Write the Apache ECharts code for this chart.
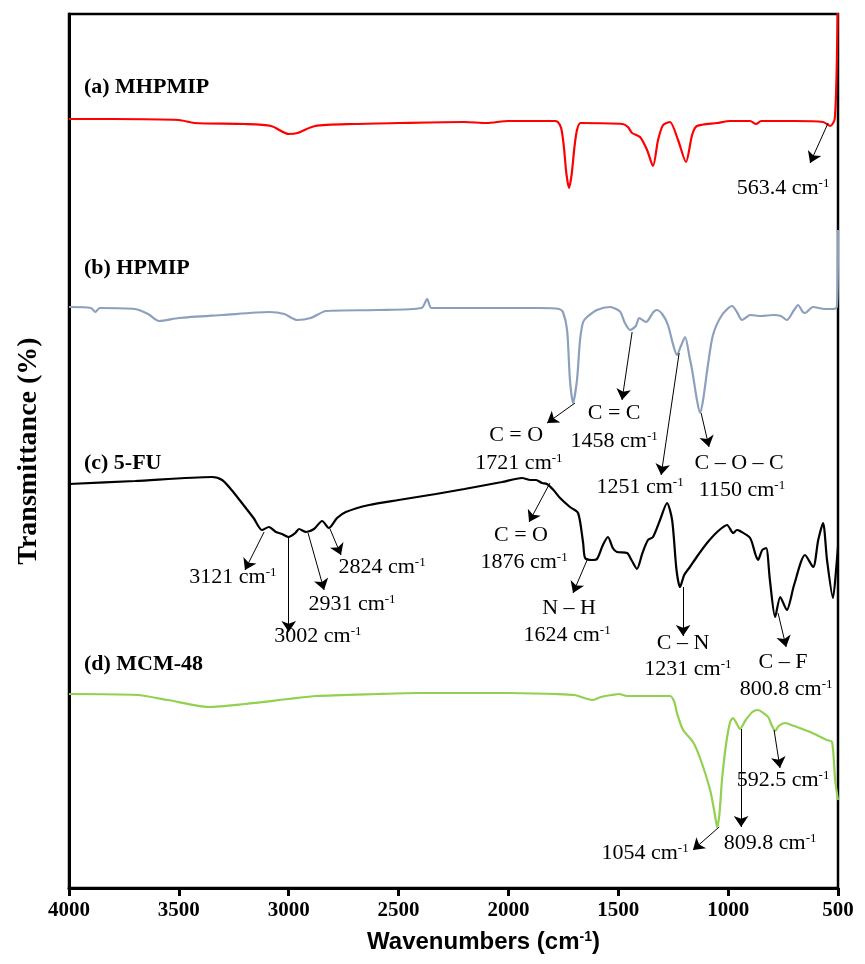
<!DOCTYPE html>
<html>
<head>
<meta charset="utf-8">
<script src="https://cdn.jsdelivr.net/npm/echarts@6/dist/echarts.min.js"></script>
<style>
html,body{margin:0;padding:0;background:#fff}
#main{width:865px;height:964px}
</style>
</head>
<body>
<div id="main"></div>
<script>
// [wavenumber, offset transmittance]
var mhpmip = [[4000,769],[3800,769],[3500,768],[3430,765],[3200,764],[3080,762],[3000,754],[2960,755],[2880,762],[2700,764],[2500,765],[2200,766],[2100,765],[2000,767],[1790,767],[1775,766],[1760,760],[1748,742],[1736,714],[1724,700],[1712,714],[1700,740],[1688,758],[1672,765],[1480,764],[1456,761],[1437,755],[1401,751],[1369,738],[1342,722],[1319,748],[1296,763],[1265,766],[1228,748],[1192,726],[1164,753],[1142,762],[1050,765],[990,767],[900,767],[873,764],[850,767],[700,767],[568,766],[535,762],[515,769],[505,828],[500,900]];
var hpmip = [[4000,581],[3900,580],[3880,576],[3860,580],[3700,579],[3640,574],[3590,567],[3500,570],[3300,573],[3090,576],[3020,574],[2962,568],[2900,570],[2830,577],[2600,578],[2395,580],[2370,589],[2350,580],[2100,580],[1856,580],[1770,579],[1752,576],[1733,558],[1720,508],[1706,485],[1688,508],[1674,548],[1660,566],[1642,571],[1597,578],[1538,581],[1510,579],[1490,576],[1470,565],[1446,558],[1420,562],[1405,570],[1374,566],[1340,576],[1324,578],[1300,574],[1274,563],[1250,543],[1233,533],[1215,542],[1196,551],[1175,530],[1164,518],[1142,488],[1128,475],[1114,488],[1092,523],[1069,553],[1028,573],[982,582],[960,576],[937,568],[900,573],[850,572],[795,573],[760,572],[733,568],[700,578],[682,583],[660,576],[650,575],[614,581],[560,579],[523,579],[505,581],[500,658]];
var fu5 = [[4000,404],[3700,407],[3349,411],[3303,408],[3260,398],[3213,385],[3160,370],[3122,358],[3090,361],[3058,356],[3030,354],[3000,351],[2970,355],[2953,359],[2921,356],[2885,359],[2848,367],[2817,360],[2780,370],[2740,376],[2634,383],[2500,388],[2330,394],[2200,399],[2029,406],[1938,410],[1900,408],[1874,408],[1847,405],[1825,404],[1795,398],[1765,390],[1720,381],[1683,375],[1660,345],[1651,330],[1620,328],[1597,329],[1570,343],[1547,351],[1525,340],[1506,336],[1460,335],[1440,328],[1415,319],[1390,335],[1365,348],[1342,351],[1310,368],[1278,385],[1255,368],[1235,318],[1219,301],[1200,313],[1174,321],[1140,332],[1096,345],[1050,356],[1005,363],[977,355],[960,358],[946,357],[900,350],[875,333],[864,328],[845,338],[827,340],[810,308],[786,271],[763,291],[733,278],[700,303],[650,333],[613,321],[590,348],[568,365],[550,328],[523,290],[505,328],[500,341]];
var mcm48 = [[4000,194],[3690,193],[3550,188],[3363,181],[3200,184],[3000,189],[2876,192],[2600,194],[2407,195],[2000,195],[1788,194],[1700,193],[1640,189],[1615,188],[1580,191],[1530,193],[1497,194],[1460,192],[1264,192],[1245,186],[1233,175],[1205,158],[1160,146],[1128,130],[1082,98],[1060,73],[1050,61],[1040,73],[1028,108],[1010,143],[991,166],[978,170],[960,164],[946,159],[920,168],[890,176],[864,178],[840,175],[818,171],[800,162],[786,157],[770,162],[741,165],[700,162],[627,156],[570,150],[550,148],[527,146],[513,108],[500,88]];

var curveNames = [[3932,801,'(a) MHPMIP'],[3932,620,'(b) HPMIP'],[3932,425,'(c) 5-FU'],[3932,224,'(d) MCM-48']];

// arrows: from [w,v] to [w,v]
var arrows = [
  [545,765,627,725],
  [1697,485,1824,465],
  [1437,556,1483,488],
  [1223,535,1305,413],
  [1123,475,1087,441],
  [3112,356,3199,318],
  [3000,351,3000,256],
  [2912,355,2839,298],
  [2812,359,2762,333],
  [1811,405,1906,366],
  [1638,330,1706,295],
  [1205,301,1205,252],
  [773,275,736,241],
  [1041,61,1160,38],
  [941,159,941,61],
  [791,158,764,120]
];

var annoText = [
  [750,700,'563.4 cm-1'],
  [1965,453,'C = O'],[1952,425,'1721 cm-1'],
  [1519,475,'C = C'],[1519,447,'1458 cm-1'],
  [1401,401,'1251 cm-1'],
  [950,425,'C – O – C'],[937,398,'1150 cm-1'],
  [3254,311,'3121 cm-1'],
  [2867,252,'3002 cm-1'],
  [2712,284,'2931 cm-1'],
  [2575,321,'2824 cm-1'],
  [1943,353,'C = O'],[1929,326,'1876 cm-1'],
  [1724,280,'N – H'],[1733,253,'1624 cm-1'],
  [1205,245,'C – N'],[1183,219,'1231 cm-1'],
  [750,226,'C – F'],[736,199,'800.8 cm-1'],
  [1378,35,'1054 cm-1'],
  [809,45,'809.8 cm-1'],
  [750,108,'592.5 cm-1']
];

var myChart = echarts.init(document.getElementById('main'));

function curve(name, data, color) {
  return {
    name: name,
    type: 'line',
    data: data,
    showSymbol: false,
    smooth: 0.25,
    lineStyle: {color: color, width: 2.2},
    z: 3
  };
}

var option = {
  animation: false,
  grid: {left: 69, right: 27, top: 14, bottom: 76, show: true, borderColor: '#000', borderWidth: 2.5},
  xAxis: {
    type: 'value',
    min: 500,
    max: 4000,
    interval: 500,
    inverse: true,
    name: 'Wavenumbers (cm{s|-1})',
    nameLocation: 'middle',
    nameGap: 42,
    nameTextStyle: {
      fontFamily: 'Liberation Sans Narrow, Liberation Sans, sans-serif',
      fontWeight: 'bold', fontSize: 24, color: '#000',
      padding: [0, 0, 0, 60],
      rich: {s: {fontSize: 14, fontWeight: 'bold', verticalAlign: 'top', fontFamily: 'Liberation Sans Narrow, Liberation Sans, sans-serif', color: '#000'}}
    },
    axisLine: {lineStyle: {color: '#000', width: 3}},
    axisTick: {show: true, inside: false, length: 8, lineStyle: {color: '#000', width: 3}},
    axisLabel: {
      fontFamily: 'Liberation Serif', fontWeight: 'bold', fontSize: 21, color: '#000', margin: 12,
      formatter: function (v) { return String(v); }
    },
    splitLine: {show: false}
  },
  yAxis: {
    type: 'value',
    min: 0,
    max: 874,
    name: 'Transmittance (%)',
    nameLocation: 'middle',
    nameGap: 26,
    nameRotate: 90,
    nameTextStyle: {fontFamily: 'Liberation Serif', fontWeight: 'bold', fontSize: 28, color: '#000'},
    axisLine: {show: true, lineStyle: {color: '#000', width: 3}},
    axisTick: {show: false},
    axisLabel: {show: false},
    splitLine: {show: false}
  },
  series: [
    curve('MHPMIP', mhpmip, '#FF0000'),
    curve('HPMIP', hpmip, '#8CA0BE'),
    curve('5-FU', fu5, '#000000'),
    curve('MCM-48', mcm48, '#92D050'),
    {
      type: 'lines',
      coordinateSystem: 'cartesian2d',
      symbol: ['none', 'arrow'],
      symbolSize: 11,
      silent: true,
      lineStyle: {color: '#000', width: 1, opacity: 1},
      data: arrows.map(function (a) { return {coords: [[a[0], a[1]], [a[2], a[3]]]}; }),
      z: 5
    },
    {
      type: 'scatter',
      symbolSize: 0,
      silent: true,
      itemStyle: {color: '#000'},
      data: annoText.map(function (a) { return {value: [a[0], a[1]], text: a[2]}; }),
      label: {
        show: true,
        position: 'inside',
        formatter: function (p) { return p.data.text.replace('cm-1', 'cm{s|-1}'); },
        fontFamily: 'Liberation Serif',
        fontSize: 22,
        color: '#000',
        opacity: 1,
        textBorderWidth: 0,
        rich: {s: {fontSize: 13, verticalAlign: 'top', fontFamily: 'Liberation Serif', color: '#000'}}
      },
      z: 6
    },
    {
      type: 'scatter',
      symbolSize: 0,
      silent: true,
      itemStyle: {color: '#000'},
      data: curveNames.map(function (a) { return {value: [a[0], a[1]], text: a[2]}; }),
      label: {
        show: true,
        position: 'inside',
        align: 'left',
        formatter: function (p) { return p.data.text; },
        fontFamily: 'Liberation Serif',
        fontWeight: 'bold',
        fontSize: 22,
        color: '#000',
        opacity: 1,
        textBorderWidth: 0
      },
      z: 6
    }
  ]
};
myChart.setOption(option);
</script>
</body>
</html>
